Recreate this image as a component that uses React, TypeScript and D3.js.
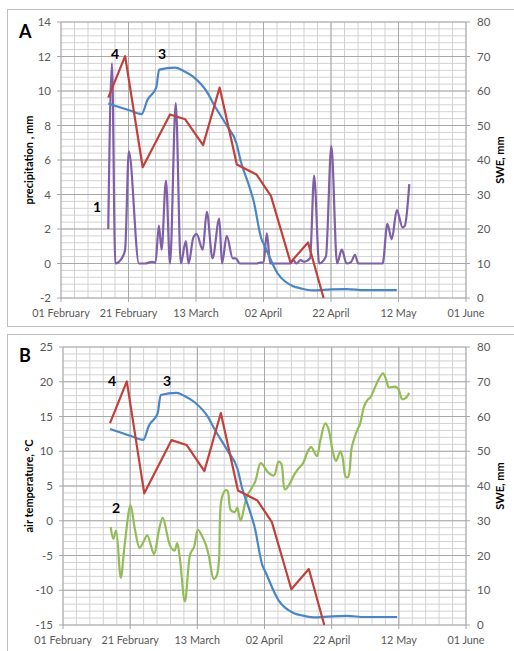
import * as d3 from "d3";
import { useEffect, useRef } from "react";

// days are counted from 01 February
const tickLabels = ["01 February", "21 February", "13 March", "02 April", "22 April", "12 May", "01 June"];

// 1 - precipitation, mm (panel A, left axis)
const precipDays = [14.0, 15.1, 16.1, 18.0, 19.0, 20.1, 23.1, 25.0, 27.0, 28.0, 29.0, 29.8, 31.1, 32.3, 34.0, 35.5, 37.0, 37.8, 39.2, 40.2, 42.0, 43.2, 44.9, 46.9, 47.7, 49.1, 50.9, 51.8, 53.0, 58.0, 59.0, 60.0, 61.0, 62.0, 68.0, 68.8, 69.8, 71.0, 72.0, 73.8, 75.0, 76.5, 78.5, 80.1, 81.8, 83.2, 84.6, 86.0, 87.1, 88.1, 95.3, 96.7, 98.0, 99.5, 101.2, 101.9, 103.2];
const precipValues = [2.0, 11.6, 0, 0.3, 0.8, 6.5, 0, 0, 0.1, 0.05, 2.2, 0.8, 4.8, 0, 9.3, 0, 1.3, 0, 1.5, 1.7, 0.8, 3.0, 0.3, 2.6, 0, 1.6, 0.3, 0.3, 0, 0, 0.05, 0.05, 1.75, 0, 0, 0.2, 0, 0.2, 0.1, 0.3, 5.1, 0, 0.4, 6.8, 0, 0.8, 0, 0.1, 0.5, 0, 0, 2.3, 1.4, 3.1, 2.1, 2.2, 4.6];

// 2 - air temperature, °C (panel B, left axis)
const tempDays = [14.2, 15.0, 15.8, 17.2, 18.4, 20.1, 21.4, 22.8, 24.0, 25.1, 27.1, 28.5, 29.7, 31.9, 33.2, 34.0, 34.8, 36.3, 37.9, 39.0, 40.2, 41.5, 42.5, 43.4, 44.9, 45.7, 46.4, 47.2, 48.4, 49.0, 50.0, 51.2, 51.9, 52.9, 54.7, 57.2, 58.9, 61.0, 62.8, 64.2, 65.0, 66.1, 67.6, 68.8, 70.1, 71.5, 72.8, 73.9, 75.6, 76.6, 78.1, 79.0, 80.3, 81.3, 82.6, 83.3, 84.2, 84.9, 86.0, 87.5, 88.5, 89.6, 90.7, 91.6, 92.9, 94.4, 95.3, 96.3, 97.0, 98.9, 99.9, 101.0, 101.9, 103.1];
const tempValues = [-0.9, -2.6, -1.4, -8.2, -3.3, 2.2, -1.2, -3.9, -3.0, -2.1, -4.8, -1.5, 0.4, -3.6, -4.3, -3.2, -5.4, -11.6, -4.8, -3.8, -1.3, -2.3, -3.4, -5.0, -8.4, -8.0, -6.0, 3.1, 4.4, 4.3, 1.5, 1.3, 1.9, 0.0, 3.4, 5.6, 8.3, 7.0, 6.5, 8.5, 8.2, 4.5, 5.4, 6.6, 7.5, 8.3, 9.9, 10.6, 9.3, 11.5, 14.0, 13.3, 10.0, 8.6, 10.0, 9.0, 6.3, 6.3, 10.6, 12.9, 14.0, 16.4, 17.4, 17.8, 19.2, 20.7, 21.2, 20.2, 19.2, 19.3, 18.9, 17.5, 17.6, 18.4];

// 3 - SWE, mm (right axis)
const swe3Days = [14.0, 20.2, 23.9, 25.6, 28.2, 29.1, 33.8, 36.2, 39.2, 43.2, 45.1, 49.1, 52.0, 53.3, 55.5, 57.0, 59.5, 60.0, 64.2, 68.8, 71.0, 74.5, 80.0, 84.6, 90.0, 99.5];
const swe3Values = [56.4, 54.4, 53.3, 57.4, 61.0, 66.2, 66.8, 65.9, 64.1, 59.8, 56.4, 50.0, 44.8, 39.5, 33.2, 28.4, 16.8, 15.8, 7.1, 3.4, 2.8, 2.2, 2.5, 2.6, 2.3, 2.3];

// 4 - SWE, mm (right axis)
const swe4Days = [14.0, 19.0, 24.2, 32.3, 36.8, 42.1, 47.0, 52.1, 57.9, 62.2, 68.0, 73.2, 77.8];
const swe4Values = [58.1, 70.1, 37.9, 53.2, 51.8, 44.3, 61.0, 38.7, 35.8, 29.6, 10.3, 16.1, 0];

const precipTicks = [-2, 0, 2, 4, 6, 8, 10, 12, 14];
const tempTicks = [-15, -10, -5, 0, 5, 10, 15, 20, 25];
const sweTicks = [0, 10, 20, 30, 40, 50, 60, 70, 80];

const FONT = "Lato, 'Open Sans', sans-serif";
const PURPLE = "#7f5fa8";
const BLUE = "#4a86c5";
const RED = "#c0403c";
const GREEN = "#92bd56";

type Panel = {
  top: number;
  bottom: number;
  left: number;
  right: number;
  leftTicks: number[];
  minorStep: number;
};

function drawPanel(
  svg: d3.Selection<SVGSVGElement, unknown, null, undefined>,
  p: Panel,
  letter: string,
  letterY: number,
  leftLabel: string,
  labelY: number
) {
  const g = svg.append("g");
  const x = d3.scaleLinear().domain([0, 120]).range([p.left, p.right]);
  const yL = d3
    .scaleLinear()
    .domain([p.leftTicks[0], p.leftTicks[p.leftTicks.length - 1]])
    .range([p.bottom, p.top]);
  const yR = d3.scaleLinear().domain([0, 80]).range([p.bottom, p.top]);

  // minor grid
  const [l0, l1] = yL.domain();
  const minor = d3.range(l0, l1 + 1e-6, p.minorStep);
  g.selectAll(".hmin")
    .data(minor)
    .join("line")
    .attr("x1", p.left)
    .attr("x2", p.right)
    .attr("y1", (d) => yL(d))
    .attr("y2", (d) => yL(d))
    .attr("stroke", "#d2d2d2")
    .attr("stroke-width", 1);
  g.selectAll(".vmin")
    .data(d3.range(0, 121, 4))
    .join("line")
    .attr("x1", (d) => x(d))
    .attr("x2", (d) => x(d))
    .attr("y1", p.top)
    .attr("y2", p.bottom)
    .attr("stroke", "#d2d2d2")
    .attr("stroke-width", 1);
  // major grid
  g.selectAll(".hmaj")
    .data(p.leftTicks)
    .join("line")
    .attr("x1", p.left)
    .attr("x2", p.right)
    .attr("y1", (d) => yL(d))
    .attr("y2", (d) => yL(d))
    .attr("stroke", "#a8a8a8")
    .attr("stroke-width", 1);
  g.selectAll(".vmaj")
    .data(d3.range(0, 121, 20))
    .join("line")
    .attr("x1", (d) => x(d))
    .attr("x2", (d) => x(d))
    .attr("y1", p.top)
    .attr("y2", p.bottom + 4)
    .attr("stroke", "#a8a8a8")
    .attr("stroke-width", 1);

  // tick marks
  g.selectAll(".tl")
    .data(p.leftTicks)
    .join("line")
    .attr("x1", p.left - 4)
    .attr("x2", p.left)
    .attr("y1", (d) => yL(d))
    .attr("y2", (d) => yL(d))
    .attr("stroke", "#a8a8a8");
  g.selectAll(".tr")
    .data(sweTicks)
    .join("line")
    .attr("x1", p.right)
    .attr("x2", p.right + 4)
    .attr("y1", (d) => yR(d))
    .attr("y2", (d) => yR(d))
    .attr("stroke", "#a8a8a8");

  // tick labels
  g.selectAll(".ll")
    .data(p.leftTicks)
    .join("text")
    .attr("x", p.left - 10)
    .attr("y", (d) => yL(d) + 4)
    .attr("text-anchor", "end")
    .attr("font-size", 11.5)
    .attr("fill", "#595959")
    .text((d) => String(d));
  g.selectAll(".rl")
    .data(sweTicks)
    .join("text")
    .attr("x", p.right + 11)
    .attr("y", (d) => yR(d) + 4)
    .attr("font-size", 11.5)
    .attr("fill", "#595959")
    .text((d) => String(d));
  g.selectAll(".xl")
    .data(tickLabels)
    .join("text")
    .attr("x", (_, i) => x(i * 20))
    .attr("y", p.bottom + 19)
    .attr("text-anchor", "middle")
    .attr("font-size", 10.8)
    .attr("fill", "#595959")
    .text((d) => d);

  // axis titles
  g.append("text")
    .attr("transform", `translate(33,${labelY}) rotate(-90)`)
    .attr("text-anchor", "middle")
    .attr("font-size", 11)
    .attr("font-weight", "bold")
    .text(leftLabel);
  g.append("text")
    .attr("transform", `translate(504,${labelY}) rotate(-90)`)
    .attr("text-anchor", "middle")
    .attr("font-size", 11)
    .attr("font-weight", "bold")
    .text("SWE, mm");

  g.append("text")
    .attr("x", 19)
    .attr("y", letterY)
    .attr("font-size", 18)
    .attr("font-weight", "bold")
    .text(letter);

  return { g, x, yL, yR };
}

function addLine(
  g: d3.Selection<SVGGElement, unknown, null, undefined>,
  days: number[],
  vals: number[],
  x: d3.ScaleLinear<number, number>,
  y: d3.ScaleLinear<number, number>,
  color: string,
  curve: d3.CurveFactory,
  clipId: string
) {
  const line = d3
    .line<number>()
    .x((_, i) => x(days[i]))
    .y((d) => y(d))
    .curve(curve);
  g.append("path")
    .attr("d", line(vals))
    .attr("fill", "none")
    .attr("stroke", color)
    .attr("stroke-width", 2.2)
    .attr("stroke-linejoin", "round")
    .attr("clip-path", `url(#${clipId})`);
}

function numLabel(g: d3.Selection<SVGGElement, unknown, null, undefined>, x: number, y: number, t: string) {
  g.append("text")
    .attr("x", x)
    .attr("y", y)
    .attr("font-size", 14)
    .attr("font-weight", "bold")
    .text(t);
}

export default function App() {
  const ref = useRef<SVGSVGElement>(null);

  useEffect(() => {
    const svg = d3.select(ref.current!);
    svg.selectAll("*").remove();
    svg.attr("font-family", FONT);

    svg.append("rect").attr("width", 514).attr("height", 651).attr("fill", "#fff");
    // panel frames
    svg.append("rect").attr("x", 7.5).attr("y", 9.5).attr("width", 520).attr("height", 317).attr("fill", "none").attr("stroke", "#bdbdbd");
    svg.append("rect").attr("x", 7.5).attr("y", 334.5).attr("width", 520).attr("height", 330).attr("fill", "none").attr("stroke", "#bdbdbd");

    const pA: Panel = { top: 22, bottom: 298, left: 61, right: 466, leftTicks: precipTicks, minorStep: 0.4 };
    const pB: Panel = { top: 347, bottom: 625, left: 63, right: 466, leftTicks: tempTicks, minorStep: 1 };

    const defs = svg.append("defs");
    [["clipA", pA], ["clipB", pB]].forEach(([id, p]) => {
      const pp = p as Panel;
      defs.append("clipPath").attr("id", id as string).append("rect")
        .attr("x", pp.left).attr("y", pp.top - 5).attr("width", pp.right - pp.left).attr("height", pp.bottom - pp.top + 6);
    });

    const A = drawPanel(svg, pA, "A", 38, "precipitation , mm", 160);
    addLine(A.g, precipDays, precipValues, A.x, A.yL, PURPLE, d3.curveMonotoneX, "clipA");
    addLine(A.g, swe3Days, swe3Values, A.x, A.yR, BLUE, d3.curveMonotoneX, "clipA");
    addLine(A.g, swe4Days, swe4Values, A.x, A.yR, RED, d3.curveLinear, "clipA");
    numLabel(A.g, 111, 59, "4");
    numLabel(A.g, 158, 59, "3");
    numLabel(A.g, 93, 212, "1");

    const B = drawPanel(svg, pB, "B", 362, "air temperature, °C", 486);
    addLine(B.g, tempDays, tempValues, B.x, B.yL, GREEN, d3.curveCatmullRom.alpha(0.5), "clipB");
    addLine(B.g, swe3Days, swe3Values, B.x, B.yR, BLUE, d3.curveMonotoneX, "clipB");
    addLine(B.g, swe4Days, swe4Values, B.x, B.yR, RED, d3.curveLinear, "clipB");
    numLabel(B.g, 108, 386, "4");
    numLabel(B.g, 163, 386, "3");
    numLabel(B.g, 112, 513, "2");
  }, []);

  return (
    <div style={{ position: "absolute", left: 0, top: 0 }}>
      <svg ref={ref} width={514} height={651} style={{ display: "block" }} />
    </div>
  );
}
